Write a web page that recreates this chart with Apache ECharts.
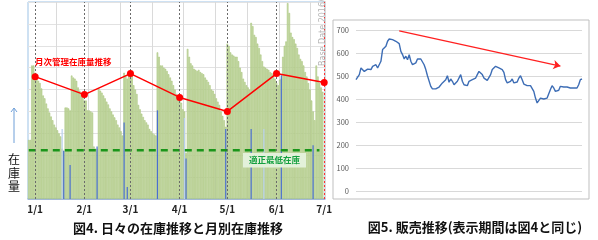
<!DOCTYPE html>
<html><head><meta charset="utf-8">
<script src="https://cdn.jsdelivr.net/npm/echarts@6/dist/echarts.min.js"></script>
<style>html,body{margin:0;padding:0;background:#fff}#c{width:598px;height:240px}</style>
</head><body><div id="c"></div>
<script>
// ---- Fig.4 data (daily stock, 12/28 .. 7/1) ----
const dailyStock = [
  2.7, 2.7, 6.1, 6.1,
  5.77,5.5,5.4,5.3,5.05,4.73,4.6,4.36,4.14,3.95,3.77,3.6,3.4,3.27,3.14,3.0,2.86,2.3,2.2,4.18,4.18,4.14,4.05,5.64,5.55,5.5,5.4,5.1,4.95,4.82,4.73,
  4.5,4.5,4.05,4.05,4.0,3.95,2.4,2.3,2.3,5.05,4.95,4.86,4.73,4.6,4.45,4.32,4.14,4.0,3.86,3.73,3.6,3.4,3.27,3.1,2.9,5.77,5.64,5.5,5.77,
  5.77,5.7,5.2,5.0,4.8,4.3,4.1,3.9,3.75,3.6,3.5,3.4,3.2,3.1,3.0,2.95,2.9,6.7,6.5,6.1,6.1,6.0,5.95,5.85,5.7,5.55,5.4,5.2,5.0,4.8,4.6,
  4.6,4.4,4.1,4.0,2.1,6.86,6.5,6.2,6.1,5.95,5.9,5.85,5.9,5.8,5.75,5.7,5.55,5.45,5.35,5.2,5.0,4.95,4.8,4.6,4.45,4.3,4.0,3.8,3.6,3.3,
  7.1,7.0,6.7,6.6,6.55,6.5,6.5,6.3,6.0,5.8,5.5,5.35,5.2,5.1,5.0,8.05,7.9,7.5,7.4,7.1,6.9,6.6,6.3,6.05,6.0,5.95,5.9,5.8,5.75,5.7,5.5,
  5.3,5.2,5.45,5.5,6.5,7.0,7.2,8.95,8.5,7.6,7.4,7.3,7.1,6.9,6.6,6.4,6.3,6.1,5.8,5.6,5.3,5.0,4.5,4.0,3.6,6.1,5.6,5.3,5.1,4.9,
  null
];
const monthTicks = ['1/1','2/1','3/1','4/1','5/1','6/1','7/1'];
const monthlyStock = [5.59, 4.77, 5.73, 4.64, 4.0, 5.73, 5.32];
const shipDates = ['1/19','1/23','2/9','2/26','2/28','3/18','4/5','4/30','5/16','6/4','6/24'];
const shipValues = [2.2, 1.55, 2.4, 3.5, 0.55, 4.05, 1.85, 3.2, 3.2, 5.65, 2.45];
const paleDates = ['1/18','4/4','5/24'];
const paleValues = [3.2, 3.7, 3.2];
const minStockLevel = 2.23;
const minStockSpan = ['12/28', '6/28'];

// ---- Fig.5 data (sales) ----
const salesValues = [484,491,506,535,528,520,528,530,535,528,542,535,549,535,542,564,615,615,629,651,661,661,658,651,651,643,641,607,593,574,586,571,593,564,549,542,557,574,578,574,571,549,528,501,496,455,444,441,444,452,452,458,470,477,484,501,473,487,477,462,467,477,484,506,477,462,470,458,477,477,484,487,491,506,520,516,506,491,484,481,484,506,528,535,542,539,535,542,528,516,484,470,467,477,487,470,462,474,491,501,484,465,462,458,462,458,452,433,404,383,390,404,400,400,401,404,412,441,458,448,433,433,438,455,462,452,455,452,448,448,448,448,452,448,462,484,487];
const salesTicks = [0, 700, 100];
const trendFrom = [26, 696];
const trendTo = [123, 543];

// category labels (dates)
const dayCats = [];
for (let d = new Date(2015, 11, 28); d <= new Date(2016, 6, 1); d.setDate(d.getDate() + 1)) {
  dayCats.push((d.getMonth() + 1) + '/' + d.getDate());
}
const salesCats = salesValues.map((_, i) => i);

const chart = echarts.init(document.getElementById('c'), null, {renderer: 'canvas'});
const FONT = '"Noto Sans CJK JP", "Noto Sans", sans-serif';

const blueData = shipDates.map((d, i) => ({value: [d, shipValues[i]], itemStyle: {color: '#4a6fd0'}}))
  .concat(paleDates.map((d, i) => ({value: [d, paleValues[i]], itemStyle: {color: '#b9d0ee'}})));

chart.setOption({
  animation: false,
  textStyle: {fontFamily: FONT},
  grid: [
    {left: 28, top: 2, width: 297, height: 197, show: true, borderColor: '#9dc3e6', borderWidth: 1, backgroundColor: '#fff'},
    {left: 356, top: 30, width: 226, height: 161}
  ],
  xAxis: [
    {type: 'category', gridIndex: 0, data: dayCats, boundaryGap: true,
     axisLine: {lineStyle: {color: '#8faadc', width: 1.5}}, axisTick: {show: false},
     axisLabel: {interval: (i, v) => monthTicks.includes(v), fontSize: 10, fontWeight: 'bold', color: '#222', margin: 5, fontFamily: FONT},
     splitLine: {show: true, interval: (i) => i % 20 === 18, lineStyle: {color: '#dadada', width: 1}}},
    {type: 'category', gridIndex: 0, data: dayCats, show: false},
    {type: 'category', gridIndex: 1, data: salesCats, show: false, boundaryGap: false}
  ],
  yAxis: [
    {type: 'value', gridIndex: 0, min: 0, max: 9, interval: 1,
     axisLabel: {show: false}, axisLine: {show: false}, axisTick: {show: false},
     splitLine: {lineStyle: {color: '#e2e2e2'}}},
    {type: 'value', gridIndex: 1, min: salesTicks[0], max: salesTicks[1], interval: salesTicks[2],
     axisLabel: {fontSize: 7.5, color: '#595959', margin: 7},
     axisLine: {show: false}, axisTick: {show: false},
     splitLine: {lineStyle: {color: '#d9d9d9'}}}
  ],
  series: [
    {type: 'bar', xAxisIndex: 0, yAxisIndex: 0, data: dailyStock, barCategoryGap: '0%', z: 2,
     itemStyle: {color: '#cfe0b4', borderColor: '#a8c47a', borderWidth: 0.6},
     markLine: {silent: true, symbol: 'none', label: {show: false},
       data: monthTicks.map((m, i) => ({xAxis: m, lineStyle: i === monthTicks.length - 1
         ? {color: '#ff3030', type: [2, 2], width: 1}
         : {color: '#6a6a6a', type: [2, 2], width: 1}}))}},
    {type: 'bar', xAxisIndex: 1, yAxisIndex: 0, data: blueData, barWidth: 1.2, z: 3},
    {type: 'line', xAxisIndex: 0, yAxisIndex: 0, data: minStockSpan.map(d => [d, minStockLevel]),
     symbol: 'none', z: 4, lineStyle: {color: '#1a951a', width: 2.5, type: [7, 5]}},
    {type: 'line', xAxisIndex: 0, yAxisIndex: 0, data: monthTicks.map((d, i) => [d, monthlyStock[i]]),
     symbol: 'circle', symbolSize: 7, z: 6, itemStyle: {color: '#ff0000'}, lineStyle: {color: '#ff0000', width: 1.5}},
    {type: 'line', xAxisIndex: 2, yAxisIndex: 1, data: salesValues, symbol: 'none',
     lineStyle: {color: '#3d6db5', width: 1.4},
     markLine: {silent: true, symbol: ['none', 'arrow'], symbolSize: 7, label: {show: false},
       lineStyle: {color: '#ff2020', width: 1.2, type: 'solid'},
       data: [[{coord: trendFrom}, {coord: trendTo}]]}}
  ],
  graphic: [
    {type: 'rect', shape: {x: 333, y: 20, width: 256, height: 179}, style: {fill: 'none', stroke: '#bfbfbf', lineWidth: 1}, z: -1},
    {type: 'text', left: 35, top: 58, z: 10, style: {text: '月次管理在庫量推移', fill: '#ff0000', fontSize: 8.5, fontWeight: 'bold', fontFamily: FONT}},
    {type: 'text', left: 243, top: 153, z: 10, style: {text: '適正最低在庫', fill: '#15a040', fontSize: 8.5, fontWeight: 'bold', fontFamily: FONT, backgroundColor: '#e3f1da', padding: [3, 6]}},
    {type: 'text', left: 8, top: 153, z: 10, style: {text: '在\n庫\n量', fill: '#111', fontSize: 12, lineHeight: 13.5, fontFamily: FONT}},
    {type: 'line', shape: {x1: 14, y1: 143, x2: 14, y2: 108}, style: {stroke: '#6f9fd8', lineWidth: 1}},
    {type: 'polyline', shape: {points: [[11, 112], [14, 108], [17, 112]]}, style: {stroke: '#6f9fd8', lineWidth: 1, fill: 'none'}},
    {type: 'text', x: 319, y: 66, rotation: Math.PI / 2, z: 10, style: {text: 'Base Date 2016/', fill: '#b5b5b5', fontSize: 8, fontFamily: 'DejaVu Sans, sans-serif'}},
    {type: 'text', x: 178, y: 228, z: 10, style: {text: '図4. 日々の在庫推移と月別在庫推移', fill: '#111', fontSize: 13, fontWeight: 'bold', fontFamily: FONT, textAlign: 'center', textVerticalAlign: 'middle'}},
    {type: 'text', x: 475, y: 227, z: 10, style: {text: '図5. 販売推移(表示期間は図4と同じ)', fill: '#111', fontSize: 13, fontWeight: 'bold', fontFamily: FONT, textAlign: 'center', textVerticalAlign: 'middle'}}
  ]
});
</script>
</body></html>
